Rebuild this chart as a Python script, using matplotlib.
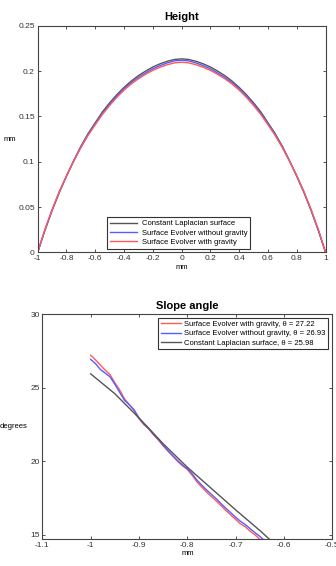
import numpy as np
import matplotlib
matplotlib.use("Agg")
import matplotlib.pyplot as plt

plt.rcParams['font.family'] = ['Liberation Sans', 'DejaVu Sans']

# height profile
x_h = [-1.0, -0.95, -0.9, -0.85, -0.8, -0.75, -0.7, -0.65, -0.6, -0.55, -0.5,
       -0.45, -0.4, -0.35, -0.3, -0.25, -0.2, -0.15, -0.1, -0.05, 0.0,
       0.05, 0.1, 0.15, 0.2, 0.25, 0.3, 0.35, 0.4, 0.45, 0.5,
       0.55, 0.6, 0.65, 0.7, 0.75, 0.8, 0.85, 0.9, 0.95, 1.0]
h_laplace = [0.0, 0.024, 0.046, 0.066, 0.084, 0.101, 0.117, 0.131, 0.143, 0.155, 0.165,
             0.174, 0.182, 0.189, 0.195, 0.200, 0.2045, 0.208, 0.2108, 0.2128, 0.2135,
             0.2128, 0.2108, 0.208, 0.2045, 0.200, 0.195, 0.189, 0.182, 0.174, 0.165,
             0.155, 0.143, 0.131, 0.117, 0.101, 0.084, 0.066, 0.046, 0.024, 0.0]
h_nograv = [0.0, 0.0245, 0.0465, 0.0665, 0.0842, 0.1008, 0.116, 0.130, 0.1418, 0.1535, 0.1635,
            0.1725, 0.1805, 0.1873, 0.193, 0.198, 0.2025, 0.206, 0.209, 0.2112, 0.212,
            0.2112, 0.209, 0.206, 0.2025, 0.198, 0.193, 0.1873, 0.1805, 0.1725, 0.1635,
            0.1535, 0.1418, 0.130, 0.116, 0.1008, 0.0842, 0.0665, 0.0465, 0.0245, 0.0]
h_grav = [0.0, 0.025, 0.047, 0.067, 0.0843, 0.1005, 0.1155, 0.129, 0.1408, 0.1522, 0.162,
          0.171, 0.179, 0.1858, 0.1915, 0.1965, 0.2008, 0.2042, 0.207, 0.209, 0.2098,
          0.209, 0.207, 0.2042, 0.2008, 0.1965, 0.1915, 0.1858, 0.179, 0.171, 0.162,
          0.1522, 0.1408, 0.129, 0.1155, 0.1005, 0.0843, 0.067, 0.047, 0.025, 0.0]

# slope angle near the left contact line
x_s = [-1.00, -0.99, -0.98, -0.97, -0.96, -0.95, -0.94, -0.93, -0.92, -0.91,
       -0.90, -0.89, -0.88, -0.87, -0.86, -0.85, -0.84, -0.83, -0.82, -0.81,
       -0.80, -0.79, -0.78, -0.77, -0.76, -0.75, -0.74, -0.73, -0.72, -0.71,
       -0.70, -0.69, -0.68, -0.67, -0.66, -0.65, -0.64]
a_grav = [27.22, 26.90, 26.55, 26.20, 25.90, 25.35, 24.85, 24.25, 23.85, 23.45,
          22.90, 22.50, 22.20, 21.80, 21.45, 21.05, 20.70, 20.35, 20.00, 19.70,
          19.45, 19.05, 18.60, 18.25, 17.90, 17.60, 17.30, 16.98, 16.65, 16.35,
          16.05, 15.75, 15.55, 15.25, 15.00, 14.70, 14.40]
a_nograv = [26.93, 26.65, 26.25, 26.00, 25.75, 25.25, 24.70, 24.15, 23.85, 23.50,
            22.95, 22.55, 22.25, 21.85, 21.50, 21.10, 20.72, 20.38, 20.05, 19.75,
            19.50, 19.15, 18.72, 18.38, 18.05, 17.75, 17.45, 17.12, 16.80, 16.50,
            16.20, 15.92, 15.70, 15.42, 15.15, 14.90, 14.60]
x_lap = [-1.0, -0.95, -0.9, -0.85, -0.8, -0.75, -0.7, -0.65, -0.62]
a_laplace = [25.95, 24.60, 22.95, 21.20, 19.60, 18.15, 16.70, 15.30, 14.40]

red = '#ff5a5a'
blue = '#5a5aff'
gray = '#555555'

fig = plt.figure(figsize=(3.36, 5.66), dpi=100)
fig.patch.set_facecolor('white')

def style(ax):
    ax.tick_params(direction='in', length=2.5, width=0.6, labelsize=6,
                   top=True, right=True, pad=2, colors='#333333')
    for s in ax.spines.values():
        s.set_linewidth(0.8)
        s.set_color('#444444')

# top: height
ax1 = fig.add_axes([0.112, 0.554, 0.857, 0.4005])
ax1.plot(x_h, h_laplace, color=gray, lw=1.0, label='Constant Laplacian surface')
ax1.plot(x_h, h_nograv, color=blue, lw=1.0, label='Surface Evolver without gravity')
ax1.plot(x_h, h_grav, color=red, lw=1.0, label='Surface Evolver with gravity')
ax1.set_xlim(-1, 1)
ax1.set_ylim(0, 0.25)
ax1.set_xticks(np.arange(-1, 1.01, 0.2))
ax1.set_xticklabels(['-1', '-0.8', '-0.6', '-0.4', '-0.2', '0', '0.2', '0.4', '0.6', '0.8', '1'])
ax1.set_yticks([0, 0.05, 0.1, 0.15, 0.2, 0.25])
ax1.set_yticklabels(['0', '0.05', '0.1', '0.15', '0.2', '0.25'])
style(ax1)
ax1.set_title('Height', fontsize=8, fontweight='bold', pad=4)
ax1.set_xlabel('mm', fontsize=5.5, labelpad=1)
ax1.set_ylabel('mm', fontsize=5.5, rotation=0, labelpad=6, va='center')
leg1 = ax1.legend(loc='lower center', bbox_to_anchor=(0.49, 0.0), fontsize=5.5,
                  handlelength=3.6, handletextpad=0.6, borderpad=0.35,
                  labelspacing=0.25, fancybox=False, framealpha=1)
leg1.get_frame().set_edgecolor('#333333')
leg1.get_frame().set_linewidth(0.8)

# bottom: slope angle
ax2 = fig.add_axes([0.126, 0.0472, 0.863, 0.3975])
ax2.plot(x_s, a_grav, color=red, lw=1.0, label='Surface Evolver with gravity, \u03b8 = 27.22')
ax2.plot(x_s, a_nograv, color=blue, lw=1.0, label='Surface Evolver without gravity, \u03b8 = 26.93')
ax2.plot(x_lap, a_laplace, color=gray, lw=1.0, label='Constant Laplacian surface, \u03b8 = 25.98')
ax2.set_xlim(-1.1, -0.5)
ax2.set_ylim(14.7, 30)
ax2.set_xticks([-1.1, -1.0, -0.9, -0.8, -0.7, -0.6, -0.5])
ax2.set_xticklabels(['-1.1', '-1', '-0.9', '-0.8', '-0.7', '-0.6', '-0.5'])
ax2.set_yticks([15, 20, 25, 30])
style(ax2)
ax2.set_title('Slope angle', fontsize=8, fontweight='bold', pad=4)
ax2.set_xlabel('mm', fontsize=5.5, labelpad=1)
ax2.set_ylabel('degrees', fontsize=5.5, rotation=0, labelpad=12, va='center')
leg2 = ax2.legend(loc='upper right', bbox_to_anchor=(1.0, 1.0), fontsize=5.5,
                  handlelength=2.6, handletextpad=0.5, borderpad=0.35,
                  labelspacing=0.25, fancybox=False, framealpha=1)
leg2.get_frame().set_edgecolor('#333333')
leg2.get_frame().set_linewidth(0.8)

fig.savefig('out.png', dpi=100)
